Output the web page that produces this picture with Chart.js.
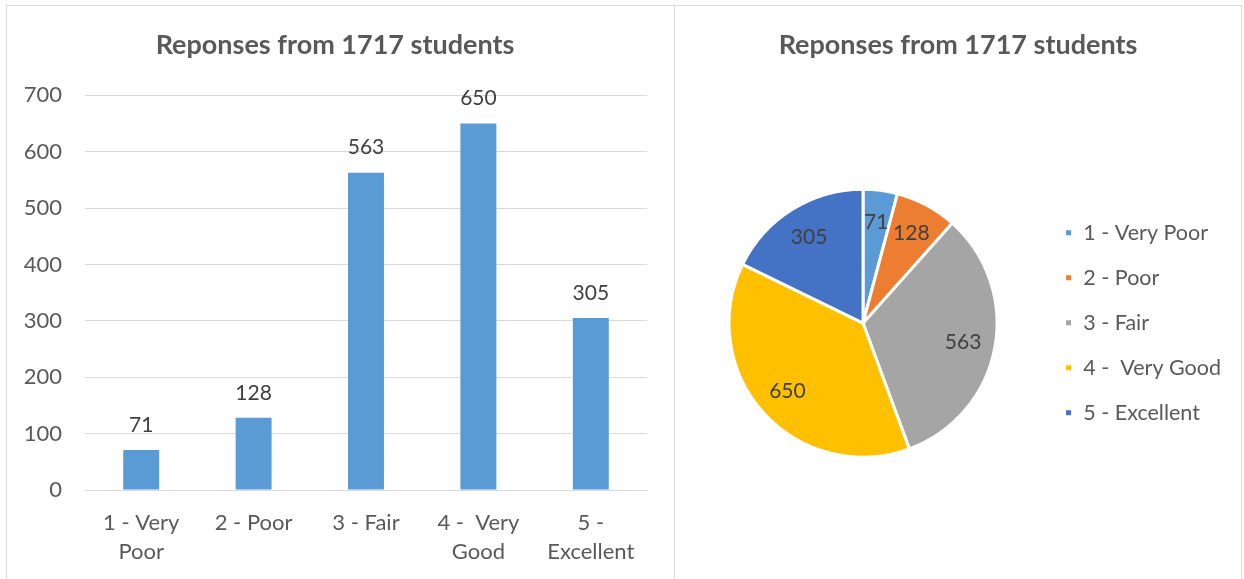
<!DOCTYPE html>
<html lang="en">
<head>
    <meta charset="UTF-8">
    <title>Reponses from 1717 students</title>
    <script src="https://cdn.jsdelivr.net/npm/chart.js@4"></script>
    <style>
        body {
            margin: 0;
            background: #ffffff;
            overflow: hidden;
        }
        .boks {
            position: absolute;
            top: 5px;
            height: 590px;
            border: 1px solid #d9d9d9;
            background: #fff;
        }
        #venstre { left: 6px; width: 667px; }
        #hoyre { left: 674px; width: 566px; }
        .boks canvas { display: block; }
    </style>
</head>
<body>
    <div class="boks" id="venstre"><canvas id="stolpe" width="667" height="573"></canvas></div>
    <div class="boks" id="hoyre"><canvas id="kake" width="566" height="573"></canvas></div>

    <script>
        const tittel = 'Reponses from 1717 students';
        const kategorier = ['1 - Very Poor', '2 - Poor', '3 - Fair', '4 -  Very Good', '5 - Excellent'];
        const stolpeEtiketter = [['1 - Very', 'Poor'], ['2 - Poor'], ['3 - Fair'], ['4 -  Very', 'Good'], ['5 -', 'Excellent']];
        const svar = [71, 128, 563, 650, 305];
        const yMaks = 700;
        const ySteg = 100;
        const kakeFarger = ['#5b9bd5', '#ed7d31', '#a5a5a5', '#ffc000', '#4472c4'];

        const skrift = 'Lato, "Open Sans", sans-serif';
        Chart.defaults.font.family = skrift;
        Chart.defaults.color = '#595959';

        // tegner verdiene over stolpene og inne i kakestykkene
        const verdiTekst = {
            id: 'verdiTekst',
            afterDatasetsDraw(chart) {
                const ctx = chart.ctx;
                const meta = chart.getDatasetMeta(0);
                const verdier = chart.data.datasets[0].data;
                ctx.save();
                ctx.font = '21px ' + skrift;
                ctx.fillStyle = '#404040';
                ctx.textAlign = 'center';
                ctx.textBaseline = 'middle';
                meta.data.forEach((el, i) => {
                    if (chart.config.type === 'bar') {
                        ctx.fillText(verdier[i], el.x, el.y - 25);
                    } else {
                        const midt = (el.startAngle + el.endAngle) / 2;
                        const r = el.outerRadius * 0.76;
                        ctx.fillText(verdier[i], el.x + Math.cos(midt) * r, el.y + Math.sin(midt) * r);
                    }
                });
                ctx.restore();
            }
        };

        const tittelValg = {
            display: true,
            text: tittel,
            color: '#595959',
            font: { size: 27, weight: 'bold' },
            padding: { top: 23, bottom: 34 }
        };

        new Chart(document.getElementById('stolpe'), {
            type: 'bar',
            data: {
                labels: stolpeEtiketter,
                datasets: [{
                    data: svar,
                    backgroundColor: '#5b9bd5',
                    categoryPercentage: 1,
                    barPercentage: 0.32
                }]
            },
            options: {
                responsive: false,
                animation: false,
                layout: { padding: { left: 16, right: 27, bottom: 9 } },
                plugins: {
                    legend: { display: false },
                    tooltip: { enabled: false },
                    title: tittelValg
                },
                scales: {
                    y: {
                        min: 0,
                        max: yMaks,
                        ticks: { stepSize: ySteg, padding: 23, font: { size: 22 }, color: '#595959' },
                        grid: { color: '#d9d9d9', drawTicks: false },
                        border: { display: false },
                        afterFit: s => { s.width = 62; }
                    },
                    x: {
                        ticks: { padding: 10, font: { size: 22, lineHeight: 1.32 }, color: '#595959', maxRotation: 0 },
                        grid: { display: false },
                        border: { color: '#d9d9d9' },
                        afterFit: s => { s.height = 80; }
                    }
                }
            },
            plugins: [verdiTekst]
        });

        new Chart(document.getElementById('kake'), {
            type: 'pie',
            data: {
                labels: kategorier,
                datasets: [{
                    data: svar,
                    backgroundColor: kakeFarger,
                    borderColor: '#ffffff',
                    borderWidth: 3,
                    radius: 134
                }]
            },
            options: {
                responsive: false,
                animation: false,
                layout: { padding: { bottom: 28, left: 10, right: 10 } },
                plugins: {
                    tooltip: { enabled: false },
                    title: tittelValg,
                    legend: {
                        position: 'right',
                        title: { display: true, text: '', padding: { top: 74, bottom: 0 } },
                        labels: {
                            boxWidth: 8,
                            boxHeight: 8,
                            padding: 23.5,
                            color: '#595959',
                            font: { size: 21.5 }
                        }
                    }
                }
            },
            plugins: [verdiTekst]
        });
    </script>
</body>
</html>
